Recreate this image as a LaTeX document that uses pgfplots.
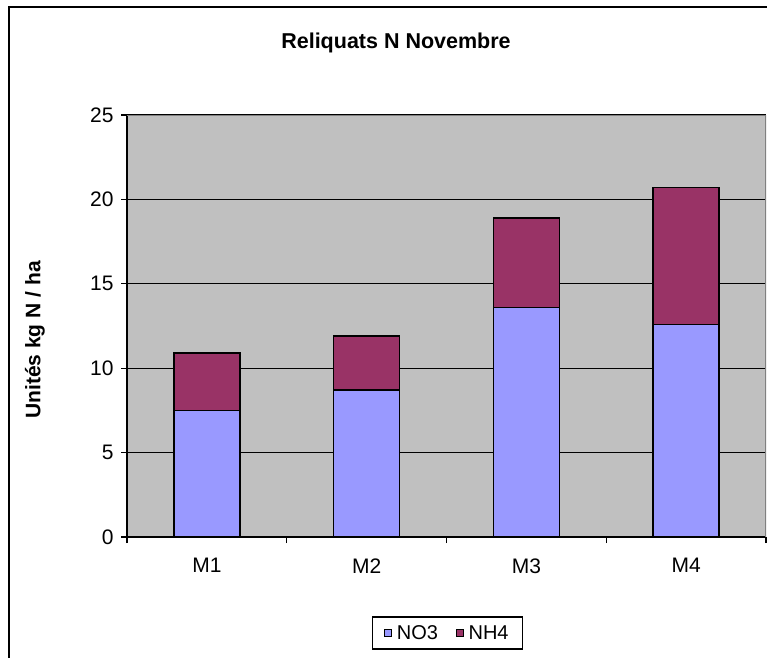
\documentclass[border=0pt]{standalone}
\usepackage{pgfplots}
\pgfplotsset{compat=1.18}
\usepackage{fontspec}
\setmainfont{Liberation Sans}
\definecolor{bgray}{RGB}{192,192,192}
\definecolor{cno}{RGB}{153,153,255}
\definecolor{cnh}{RGB}{153,51,102}
\definecolor{bordgray}{RGB}{128,128,128}
\begin{document}
\begin{tikzpicture}
\useasboundingbox (0pt,0pt) rectangle (767pt,657pt);
\begin{scope}
\clip (0pt,0pt) rectangle (767pt,657pt);
\draw[black, line width=1.8pt] (9pt,650pt) rectangle (800pt,-30pt);
\end{scope}
\node[font=\fontsize{21.5}{24}\selectfont\bfseries] at (396pt,614pt) {Reliquats N Novembre};
\node[font=\fontsize{21}{24}\selectfont\bfseries, rotate=90] at (35pt,317pt) {Unités kg N / ha};
\begin{axis}[
  at={(127pt,120pt)}, anchor=south west,
  width=639pt, height=422pt, scale only axis,
  ybar stacked, bar width=66pt,
  xmin=-0.5, xmax=3.5, ymin=0, ymax=25,
  ytick={0,5,10,15,20,25},
  xtick={-0.5,0.5,1.5,2.5,3.5}, xticklabels={},
  extra x ticks={0,1,2,3}, extra x tick labels={M1,M2,M3,M4},
  extra x tick style={major tick length=0pt, xticklabel style={yshift=-18pt}},
  yticklabel style={xshift=-4pt},
  axis background/.style={fill=bgray},
  ymajorgrids, grid style={black, line width=1.3pt},
  axis x line*=bottom, axis y line*=left,
  axis line style={black, line width=1.3pt},
  tick style={black, line width=1.3pt},
  tick align=outside, major tick length=6pt,
  /pgf/number format/assume math mode=true,
  ticklabel style={font=\fontsize{21}{24}\selectfont},
  legend style={at={(0.5016,-0.2275)}, anchor=center, draw=black, line width=1.6pt,
    legend columns=2, font=\fontsize{20}{22}\selectfont, inner xsep=12pt, inner ysep=6pt,
    /tikz/every even column/.append style={column sep=16pt}},
  legend image code/.code={\draw[#1, line width=1pt] (0pt,-3.5pt) rectangle (7pt,3.5pt);
    \path[draw=none, fill=none] (7pt,0pt) -- (10pt,0pt);},
]
\addplot[fill=cno, draw=black, line width=1.5pt] coordinates {(0,7.5) (1,8.7) (2,13.6) (3,12.6)};
\addplot[fill=cnh, draw=black, line width=1.5pt] coordinates {(0,3.4) (1,3.2) (2,5.3) (3,8.1)};
\legend{NO3,NH4}
\draw[bordgray, line width=1.2pt] (rel axis cs:0,1) -- (rel axis cs:1,1) -- (rel axis cs:1,0);
\end{axis}
\end{tikzpicture}
\end{document}
